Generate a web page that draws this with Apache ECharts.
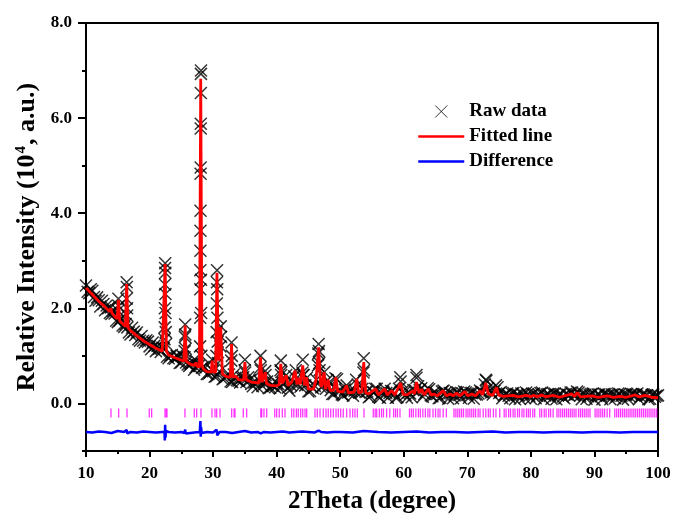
<!DOCTYPE html>
<html>
<head>
<meta charset="utf-8">
<script src="https://cdn.jsdelivr.net/npm/echarts@6/dist/echarts.min.js"></script>
<style>html,body{margin:0;padding:0;background:#fff}#c{width:673px;height:516px}</style>
</head>
<body>
<div id="c"></div>
<script>
// ---- data (2Theta in degree, intensity in 10^4 a.u.) ----
const rawBackground = [
[10,2.48],[10.5,2.32],[11,2.37],[11.5,2.16],[12,2.17],[12.5,2.16],[13,1.96],[13.5,2.0],[14,1.88],[14.5,1.89],
[15,1.71],[15.5,1.79],[16,1.61],[16.5,1.6],[17,1.45],[17.5,1.51],[18,1.49],[18.5,1.32],[19,1.32],[19.5,1.33],
[20,1.2],[20.5,1.28],[21,1.1],[21.5,1.15],[22,1.17],[23,0.95],[23.5,1.02],[24,0.94],[24.5,0.99],
[25,0.86],[25.5,0.97],[26,0.82],[26.5,0.83],[27,0.71],[27.5,0.8],[28.5,0.77],[29,0.62],[29.5,0.65],
[30,0.68],[30.5,0.57],[31,0.67],[31.5,0.51],[32,0.57],[32.5,0.61],[33,0.45],[33.5,0.54],[34,0.48],[34.5,0.54],
[35.5,0.55],[36,0.41],[36.5,0.44],[37,0.34],[38,0.44],[38.5,0.46],[39,0.33],[39.5,0.37],
[40,0.42],[40.5,0.32],[41,0.43],[41.5,0.6],[42,0.27],[42.5,0.44],[43,0.7],[43.5,0.5],[44.5,0.38],
[45,0.25],[45.5,0.34],[46,0.37],[47,0.34],[47.5,0.66],[48,0.49],[48.5,0.28],[49,0.2],[49.5,0.51],
[50,0.27],[50.5,0.17],[51,0.38],[51.5,0.25],[52,0.16],[52.5,0.5],[53,0.23],[53.5,0.31],[54,0.24],[54.5,0.13],
[55,0.25],[55.5,0.31],[56,0.14],[56.5,0.22],[57,0.31],[57.5,0.12],[58,0.26],[58.5,0.2],[59,0.13],[59.5,0.46],
[60,0.22],[60.5,0.12],[61,0.21],[61.5,0.28],[62,0.54],[62.5,0.28],[63,0.14],[63.5,0.24],[64,0.3],[64.5,0.15],
[65,0.21],[65.5,0.11],[66,0.25],[66.5,0.22],[67,0.1],[67.5,0.21],[68,0.17],[68.5,0.23],[69,0.11],[69.5,0.25],
[70,0.18],[70.5,0.22],[71,0.1],[71.5,0.19],[72,0.27],[72.5,0.23],[73,0.48],[73.5,0.27],[74,0.19],[74.5,0.38],
[75,0.22],[75.5,0.11],[76,0.2],[76.5,0.16],[77,0.21],[77.5,0.09],[78,0.18],[78.5,0.21],[79,0.12],[79.5,0.2],
[80,0.1],[80.5,0.21],[81,0.16],[81.5,0.22],[82,0.09],[82.5,0.19],[83,0.16],[83.5,0.21],[84,0.09],[84.5,0.19],
[85,0.14],[85.5,0.2],[86,0.17],[86.5,0.23],[87,0.19],[87.5,0.23],[88,0.09],[88.5,0.18],[89,0.15],[89.5,0.2],
[90,0.08],[90.5,0.19],[91,0.15],[91.5,0.2],[92,0.17],[92.5,0.09],[93,0.19],[93.5,0.15],[94,0.2],[94.5,0.08],
[95,0.18],[95.5,0.15],[96,0.2],[96.5,0.19],[97,0.09],[97.5,0.19],[98,0.17],[98.5,0.09],[99,0.18],[99.5,0.14],[100,0.17]
];
const rawBackground2 = [
[10.25,2.35],[10.75,2.4],[11.25,2.24],[11.75,2.23],[12.25,2.04],[12.75,2.09],[13.25,2.06],[13.75,1.9],[14.25,1.95],[14.75,1.74],
[15.25,1.74],[15.75,1.64],[16.25,1.67],[16.75,1.49],[17.25,1.59],[17.75,1.44],[18.25,1.35],[18.75,1.42],[19.25,1.28],[19.75,1.3],
[20.25,1.14],[20.75,1.21],[21.25,1.21],[21.75,1.08],[22.25,1.16],[22.75,0.98],[23.25,1.01],[23.75,0.95],[24.25,1.0],[24.75,0.85],
[25.25,0.99],[25.75,0.86],[26.25,0.79],[26.75,0.88],[27.25,0.76],[27.75,0.79],[28.25,0.75],[28.75,0.75],[29.25,0.62],[29.75,0.72],
[30.25,0.56],[30.75,0.85],[31.75,0.53],[32.25,0.6],[32.75,0.46],[33.25,0.61],[33.75,0.49],[34.25,0.44],[34.75,0.55],
[35.25,0.45],[35.75,0.49],[36.25,0.36],[36.75,0.45],[37.25,0.48],[37.75,0.37],[38.25,0.6],[38.75,0.32],[39.25,0.38],[39.75,0.34],
[40.25,0.41],[40.75,0.66],[41.25,0.44],[41.75,0.33],[42.25,0.38],[42.75,0.57],[43.25,0.39],[43.75,0.35],[44.25,0.6],[44.75,0.54],
[45.25,0.26],[45.75,0.32],[46.25,0.5],[46.75,0.7],[47.25,0.36],[47.75,0.31],[48.25,0.44],[48.75,0.2],[49.25,0.53],[49.75,0.27],
[50.25,0.19],[50.75,0.29],[51.25,0.23],[51.75,0.26],[52.25,0.27],[52.75,0.4],[53.25,0.22],[54.25,0.25],[54.75,0.15],
[55.25,0.23],[55.75,0.31],[56.25,0.12],[56.75,0.24],[57.25,0.22],[57.75,0.22],[58.25,0.26],[58.75,0.12],[59.25,0.31],[59.75,0.24],
[60.25,0.18],[60.75,0.23],[61.25,0.13],[61.75,0.28],[62.25,0.36],[62.75,0.32],[63.25,0.2],[63.75,0.32],[64.25,0.17],[64.75,0.23],
[65.25,0.2],[65.75,0.12],[66.25,0.27],[66.75,0.19],[67.25,0.22],[67.75,0.11],[68.25,0.24],[68.75,0.18],[69.25,0.21],[69.75,0.23],
[70.25,0.12],[70.75,0.22],[71.25,0.19],[71.75,0.21],[72.25,0.24],[72.75,0.4],[73.25,0.32],[73.75,0.23],[74.25,0.26],[74.75,0.34],
[75.25,0.24],[75.75,0.17],[76.25,0.21],[76.75,0.11],[77.25,0.22],[77.75,0.18],[78.25,0.1],[78.75,0.2],[79.25,0.23],[79.75,0.16],
[80.25,0.2],[80.75,0.11],[81.25,0.19],[81.75,0.23],[82.25,0.17],[82.75,0.2],[83.25,0.1],[83.75,0.21],[84.25,0.17],[84.75,0.2],
[85.25,0.11],[85.75,0.19],[86.25,0.23],[86.75,0.17],[87.25,0.25],[87.75,0.16],[88.25,0.2],[88.75,0.1],[89.25,0.18],[89.75,0.21],
[90.25,0.16],[90.75,0.19],[91.25,0.09],[91.75,0.2],[92.25,0.17],[92.75,0.19],[93.25,0.11],[93.75,0.21],[94.25,0.16],[94.75,0.19],
[95.25,0.1],[95.75,0.2],[96.25,0.18],[96.75,0.21],[97.25,0.14],[97.75,0.19],[98.25,0.17],[98.75,0.1],[99.25,0.19],[99.75,0.16]
];
const rawPeaks = [
[13.9,2.02],[15.05,1.95],[15.1,2.2],[15.15,2.05],
[16.38,2.2],[16.4,2.55],[16.43,2.45],[16.46,2.0],[16.48,1.85],
[22.35,1.35],[22.38,1.6],[22.4,2.0],[22.42,2.5],[22.44,2.85],[22.46,2.95],[22.48,2.75],[22.5,2.3],[22.52,1.9],[22.55,1.5],[22.6,1.25],
[25.52,1.1],[25.56,1.4],[25.6,1.66],[25.64,1.45],[25.68,1.15],[27.3,0.9],
[27.95,1.2],[27.97,1.8],[27.98,2.4],[27.99,2.8],[28.0,3.21],[28.01,3.63],[28.02,4.05],[28.03,4.83],[28.04,4.96],
[28.05,5.78],[28.06,5.88],[28.07,6.53],[28.08,6.93],[28.09,7.0],[28.1,2.6],[28.12,1.9],[28.15,1.0],
[29.85,0.92],
[30.52,1.0],[30.55,1.5],[30.58,2.1],[30.6,2.55],[30.62,2.8],[30.65,2.4],[30.68,1.8],[30.72,1.3],
[31.15,1.2],[31.2,1.62],[31.25,1.4],[32.85,0.9],[32.9,1.28],[32.95,1.0],
[34.97,0.7],[35.0,0.92],[35.05,0.65],[37.4,0.75],[37.45,1.0],[37.5,0.7],[38.2,0.68],
[40.6,0.7],[40.65,0.9],[40.7,0.6],[44.05,0.65],[44.1,0.92],[44.15,0.6],
[46.5,0.8],[46.55,1.05],[46.6,1.25],[46.65,1.1],[46.7,0.85],
[53.65,0.65],[53.7,0.95],[53.75,0.7],[59.45,0.55],[62.0,0.6],[72.9,0.5]
];
const fitLine = [
[10,2.43],[11,2.29],[12,2.15],[13,2.03],[13.7,1.93],[13.9,2.0],[14.1,1.9],[14.5,1.83],[14.9,1.78],[15.1,2.18],[15.3,1.74],
[15.7,1.68],[16.2,1.62],[16.4,2.51],[16.6,1.6],[17,1.53],[18,1.42],[19,1.32],[20,1.24],[20.1,1.27],[20.3,1.22],[21,1.16],
[22,1.1],[22.25,1.08],[22.45,2.93],[22.65,1.1],[22.85,1.12],[23,1.02],[24,0.96],[25,0.91],[25.4,0.89],[25.6,1.64],[25.8,0.88],
[26.5,0.82],[27.1,0.8],[27.3,0.86],[27.5,0.78],[27.85,0.76],[28.05,6.83],[28.25,0.8],[28.5,0.72],[29,0.67],[29.7,0.66],
[29.85,0.9],[30,0.66],[30.4,0.66],[30.6,2.75],[30.85,0.9],[31.2,1.6],[31.45,0.62],[32,0.57],[32.7,0.55],[32.9,1.25],
[33.1,0.55],[33.5,0.58],[34,0.5],[34.8,0.49],[35.0,0.87],[35.2,0.5],[36,0.45],[37.2,0.43],[37.45,0.97],[37.7,0.45],
[38.2,0.66],[38.4,0.42],[39,0.38],[40,0.37],[40.4,0.4],[40.65,0.83],[40.9,0.42],[41.5,0.59],[41.8,0.38],[42.4,0.45],
[42.9,0.69],[43.2,0.4],[43.4,0.53],[43.7,0.4],[44.1,0.8],[44.4,0.38],[44.7,0.55],[45,0.3],[45.8,0.3],[46.2,0.5],
[46.6,1.18],[46.9,0.4],[47.1,0.35],[47.45,0.66],[47.7,0.3],[48.1,0.5],[48.4,0.27],[49.0,0.28],[49.3,0.55],[49.6,0.26],
[50.4,0.24],[51.0,0.38],[51.3,0.22],[52.2,0.24],[52.6,0.52],[52.9,0.22],[53.4,0.24],[53.7,0.87],[54.0,0.22],[54.5,0.2],
[55.6,0.31],[56,0.18],[57,0.31],[57.4,0.18],[58.1,0.27],[58.6,0.18],[59.5,0.43],[59.9,0.19],[60.5,0.18],[61.5,0.27],
[61.7,0.2],[62.0,0.45],[62.4,0.22],[62.8,0.3],[63.2,0.18],[63.9,0.31],[64.3,0.17],[64.7,0.2],[65.3,0.16],[66.2,0.27],
[66.7,0.16],[67.3,0.2],[67.8,0.16],[68.3,0.22],[68.8,0.16],[69.6,0.25],[70.1,0.16],[70.7,0.2],[71.3,0.16],[72.0,0.27],
[72.4,0.18],[72.9,0.43],[73.3,0.2],[73.6,0.22],[74.0,0.17],[74.6,0.34],[74.9,0.18],[75.1,0.22],[75.6,0.15],[77.2,0.17],
[78,0.14],[79.3,0.17],[80,0.14],[80.4,0.17],[81,0.14],[81.7,0.18],[82.3,0.14],[83.5,0.17],[84.5,0.13],[86.4,0.2],
[86.9,0.15],[87.3,0.23],[87.8,0.14],[89.6,0.16],[90.5,0.13],[92,0.16],[93,0.13],[94,0.15],[95,0.13],[96.4,0.18],
[97,0.14],[98,0.17],[99,0.13],[100,0.12]
];
const difference = [
[10,-0.6],[11,-0.61],[12,-0.59],[13,-0.6],[14,-0.62],[15,-0.58],[15.1,-0.62],[16,-0.6],[16.4,-0.56],[16.5,-0.63],
[17,-0.6],[18,-0.61],[19,-0.59],[20,-0.6],[21,-0.61],[22,-0.6],[22.35,-0.6],[22.4,-0.78],[22.45,-0.45],[22.5,-0.72],
[22.6,-0.58],[23,-0.6],[24,-0.61],[25,-0.6],[25.5,-0.62],[25.6,-0.55],[25.7,-0.63],[26,-0.6],[27,-0.61],[27.9,-0.6],
[28.0,-0.37],[28.05,-0.7],[28.1,-0.5],[28.2,-0.62],[29,-0.6],[30,-0.61],[30.55,-0.55],[30.65,-0.67],[31,-0.6],
[31.2,-0.56],[31.3,-0.64],[32,-0.6],[33,-0.62],[34,-0.6],[35,-0.58],[36,-0.61],[37,-0.6],[37.5,-0.63],[38,-0.6],
[39,-0.61],[40,-0.6],[41,-0.59],[42,-0.61],[43,-0.6],[44,-0.59],[44.2,-0.63],[45,-0.6],[46,-0.61],[46.6,-0.57],
[47,-0.6],[48,-0.61],[49,-0.6],[50,-0.6],[52,-0.61],[53.7,-0.58],[54,-0.61],[56,-0.6],[58,-0.61],[60,-0.6],
[62,-0.59],[64,-0.61],[66,-0.6],[68,-0.6],[70,-0.61],[72,-0.6],[74,-0.59],[76,-0.61],[78,-0.6],[80,-0.6],
[82,-0.61],[84,-0.6],[86,-0.6],[88,-0.61],[90,-0.6],[92,-0.6],[94,-0.61],[96,-0.6],[98,-0.6],[100,-0.6]
];
const braggPositions = [
13.93,15.14,16.45,19.96,20.33,22.43,22.6,22.74,25.57,27.04,27.41,28.09,29.82,30.3,30.56,31.08,32.92,33.3,33.44,34.75,35.28,
37.5,37.64,38.0,38.43,39.7,40.0,40.41,40.89,41.31,42.36,42.7,43.1,43.4,43.78,44.1,44.46,44.72,
46.03,46.39,46.82,47.34,47.76,48.12,48.5,48.91,49.34,49.7,50.07,50.48,51.02,51.54,51.96,52.32,52.69,53.74,
55.2,55.5,55.74,56.15,56.5,56.8,57.3,57.8,58.4,58.7,59.0,59.4,60.9,61.2,61.5,61.9,62.3,62.6,63.0,63.4,63.8,64.1,
64.6,65.0,65.4,65.7,66.2,66.7,67.9,68.2,68.5,68.8,69.1,69.4,69.8,70.1,70.4,70.7,71.0,71.3,71.7,72.0,72.5,72.9,
73.3,73.6,74.1,74.5,75.1,75.8,76.1,76.5,76.8,77.2,77.5,77.9,78.2,78.6,78.9,79.3,79.6,79.9,80.3,80.6,81.4,81.7,
82.1,82.4,82.8,83.1,83.5,84.1,84.4,84.7,85.0,85.3,85.6,85.9,86.2,86.5,86.8,87.1,87.5,87.8,88.1,88.4,88.7,89.0,
89.3,90.1,90.4,90.7,91.0,91.3,91.6,92.0,92.4,93.2,93.5,93.8,94.1,94.4,94.7,95.0,95.3,95.6,95.9,96.2,96.5,96.8,
97.1,97.4,97.7,98.0,98.3,98.6,98.9,99.2,99.5,99.8
];
const braggLevel = -0.2;
const yMajorTicks = [0, 2, 4, 6, 8];
const yMinorTicks = [-1, 1, 3, 5, 7];
const seriesNames = ['Raw data', 'Fitted line', 'Difference'];

// ---- chart ----
const FONT = '"Liberation Serif", "Times New Roman", serif';
const CROSS = 'path://M0,0L10,10M10,0L0,10';
const chart = echarts.init(document.getElementById('c'), null, {renderer: 'canvas'});
const axisLineStyle = {color: '#000', width: 2};
chart.setOption({
  animation: false,
  backgroundColor: '#fff',
  grid: {left: 86, right: 15, top: 23, bottom: 65, containLabel: false, outerBoundsMode: 'none'},
  legend: {
    orient: 'vertical', left: 417, top: 102, padding: 0,
    itemWidth: 46, itemHeight: 12, itemGap: 6,
    textStyle: {fontFamily: FONT, fontWeight: 'bold', fontSize: 19, color: '#000'},
    data: [
      {name: seriesNames[0], icon: CROSS, itemStyle: {color: 'none', borderColor: '#000', borderWidth: 1}},
      {name: seriesNames[1], itemStyle: {opacity: 0}, lineStyle: {color: '#ff0000', width: 2.5, opacity: 1}},
      {name: seriesNames[2], itemStyle: {opacity: 0}, lineStyle: {color: '#0000ff', width: 2.5, opacity: 1}}
    ]
  },
  xAxis: [{
    type: 'value', min: 10, max: 100, interval: 10, position: 'bottom',
    name: '2Theta (degree)', nameLocation: 'middle', nameGap: 38,
    nameTextStyle: {fontFamily: FONT, fontWeight: 'bold', fontSize: 25, color: '#000'},
    axisLine: {show: true, onZero: false, lineStyle: axisLineStyle},
    axisTick: {show: true, inside: false, length: 6, lineStyle: {color: '#000', width: 2}},
    minorTick: {show: true, splitNumber: 2, length: 3, lineStyle: {color: '#000', width: 2}},
    axisLabel: {margin: 14, fontFamily: FONT, fontWeight: 'bold', fontSize: 17, color: '#000'},
    splitLine: {show: false}
  }, {
    type: 'value', min: 10, max: 100, position: 'top',
    axisLine: {show: true, onZero: false, lineStyle: axisLineStyle},
    axisTick: {show: false}, axisLabel: {show: false}, splitLine: {show: false}
  }],
  yAxis: [{
    type: 'value', min: -1, max: 8, interval: 1, position: 'left',
    name: 'Relative Intensity (10{sup|4}, a.u.)', nameLocation: 'middle', nameGap: 37,
    nameTextStyle: {fontFamily: FONT, fontWeight: 'bold', fontSize: 26, color: '#000',
      rich: {sup: {fontFamily: FONT, fontWeight: 'bold', fontSize: 15, color: '#000', verticalAlign: 'top', padding: [0, 1, 10, 1]}}},
    axisLine: {show: true, onZero: false, lineStyle: axisLineStyle},
    axisTick: {show: true, length: 8, customValues: yMajorTicks, lineStyle: {color: '#000', width: 2}},
    axisLabel: {customValues: yMajorTicks, margin: 14, formatter: v => v.toFixed(1),
      fontFamily: FONT, fontWeight: 'bold', fontSize: 17, color: '#000'},
    splitLine: {show: false}
  }, {
    type: 'value', min: -1, max: 8, interval: 1, position: 'left',
    axisLine: {show: false},
    axisTick: {show: true, length: 4, customValues: yMinorTicks, lineStyle: {color: '#000', width: 2}},
    axisLabel: {show: false}, splitLine: {show: false}
  }, {
    type: 'value', min: -1, max: 8, position: 'right',
    axisLine: {show: true, onZero: false, lineStyle: axisLineStyle},
    axisTick: {show: false}, axisLabel: {show: false}, splitLine: {show: false}
  }],
  series: [{
    name: seriesNames[0], type: 'scatter', xAxisIndex: 0, yAxisIndex: 0,
    data: rawBackground.concat(rawBackground2, rawPeaks),
    symbol: CROSS, symbolSize: 12,
    itemStyle: {color: 'none', borderColor: '#000', borderWidth: 1.5},
    emphasis: {disabled: true}, z: 2
  }, {
    name: seriesNames[1], type: 'line', xAxisIndex: 0, yAxisIndex: 0,
    data: fitLine, symbol: 'none', showSymbol: false,
    color: '#ff0000', lineStyle: {color: '#ff0000', width: 2.8},
    emphasis: {disabled: true}, z: 3
  }, {
    name: seriesNames[2], type: 'line', xAxisIndex: 0, yAxisIndex: 0,
    data: difference, symbol: 'none', showSymbol: false,
    color: '#0000ff', lineStyle: {color: '#0000ff', width: 2.5},
    emphasis: {disabled: true}, z: 3
  }, {
    name: 'Bragg positions', type: 'scatter', xAxisIndex: 0, yAxisIndex: 0,
    data: braggPositions.map(p => [p, braggLevel]),
    symbol: 'rect', symbolSize: [1.3, 9],
    itemStyle: {color: '#ff00ff'},
    emphasis: {disabled: true}, z: 3
  }]
});
</script>
</body>
</html>
